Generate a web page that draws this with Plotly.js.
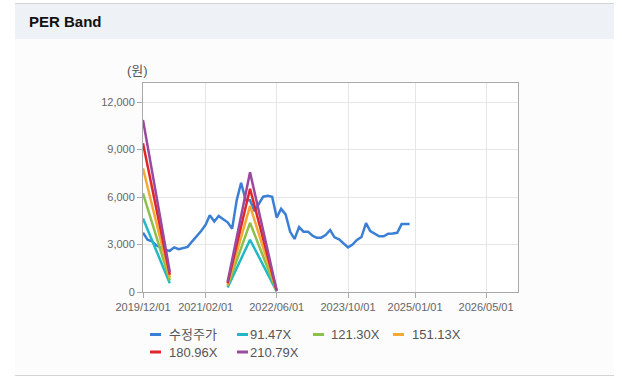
<!DOCTYPE html>
<html>
<head>
<meta charset="utf-8">
<script src="https://cdn.plot.ly/plotly-3.0.1.min.js"></script>
<style>
  html, body { margin:0; padding:0; background:#ffffff; width:622px; height:385px; overflow:hidden; }
  #panel { position:absolute; left:15px; top:3px; width:599px; height:371px; background:#fcfcfc;
           border-top:1px solid #d4d4d4; border-bottom:1px solid #d4d4d4; }
  #header { position:absolute; left:15px; top:4px; width:599px; height:35px; background:#eef2f7;
            font-family:"Liberation Sans", Arial, sans-serif; font-weight:bold; font-size:15px; color:#111;
            line-height:35px; box-sizing:border-box; padding-left:14px; }
  #chart { position:absolute; left:0; top:0; width:622px; height:385px; }
</style>
</head>
<body>
<div id="panel"></div>
<div id="header">PER Band</div>
<div id="chart"></div>
<script>
// ---- data ----
var priceDates = ['2019-12-01','2020-01-01','2020-02-01','2020-03-01','2020-04-01','2020-05-01','2020-06-01','2020-07-01','2020-08-01','2020-09-01','2020-10-01','2020-11-01','2020-12-01',
  '2021-01-01','2021-02-01','2021-03-01','2021-04-01','2021-05-01','2021-06-01','2021-07-01','2021-08-01','2021-09-01','2021-10-01','2021-11-01','2021-12-01',
  '2022-01-01','2022-02-01','2022-03-01','2022-04-01','2022-05-01','2022-06-01','2022-07-01','2022-08-01','2022-09-01','2022-10-01','2022-11-01','2022-12-01',
  '2023-01-01','2023-02-01','2023-03-01','2023-04-01','2023-05-01','2023-06-01','2023-07-01','2023-08-01','2023-09-01','2023-10-01','2023-11-01','2023-12-01',
  '2024-01-01','2024-02-01','2024-03-01','2024-04-01','2024-05-01','2024-06-01','2024-07-01','2024-08-01','2024-09-01','2024-10-01','2024-11-01','2024-11-25'];
var priceValues = [3750,3300,3200,2950,2800,2650,2600,2820,2700,2800,2850,3200,3500,
  3850,4250,4850,4450,4800,4600,4400,4000,5800,6900,5800,5800,
  5100,5600,6020,6080,6020,4700,5250,4900,3800,3350,4100,3810,
  3810,3550,3430,3430,3600,3915,3450,3330,3100,2820,3000,3285,
  3470,4350,3850,3700,3520,3520,3680,3700,3740,4290,4300,4300];

var bandDates = ['2019-12-01','2020-06-01',null,'2021-07-01','2021-12-01','2022-06-01'];
var band9147  = [4650, 550,null,280,3300,40];
var band12130 = [6230, 730,null,370,4370,55];
var band15113 = [7810, 910,null,460,5440,70];
var band18096 = [9390,1090,null,550,6520,85];
var band21079 = [10860,1270,null,640,7560,100];

var seriesNames = ['수정주가','91.47X','121.30X','151.13X','180.96X','210.79X'];
var seriesColors = ['#3a7fd5','#1fb8c4','#8dc04a','#f5a833','#e0262b','#9a4a9e'];

var xTickVals = ['2019-12-01','2021-02-01','2022-06-01','2023-10-01','2025-01-01','2026-05-01'];
var xTickText = ['2019/12/01','2021/02/01','2022/06/01','2023/10/01','2025/01/01','2026/05/01'];
var yTickVals = [0,3000,6000,9000,12000];

// ---- traces ----
var bands = [band9147, band12130, band15113, band18096, band21079];
var traces = [{
  x: priceDates, y: priceValues, type:'scatter', mode:'lines', name: seriesNames[0],
  line:{color:seriesColors[0], width:2.5}, showlegend:false, hoverinfo:'skip'
}];
bands.forEach(function(b,i){
  traces.push({
    x: bandDates.map(function(d){return d;}), y: b, type:'scatter', mode:'lines', name: seriesNames[i+1],
    line:{color:seriesColors[i+1], width:2.5}, connectgaps:false, showlegend:false, hoverinfo:'skip'
  });
});

// ---- custom legend (paper coordinates relative to the plot area) ----
var L = 143, R = 518, T = 83, B = 292;
function px(xp){ return (xp - L)/(R - L); }
function py(yp){ return (B - yp)/(B - T); }
var legendPos = [
  {lx:150, ly:334.5, tx:167},
  {lx:237, ly:334.5, tx:248},
  {lx:313, ly:334.5, tx:329},
  {lx:393, ly:334.5, tx:410},
  {lx:150, ly:352, tx:167},
  {lx:237, ly:352, tx:248}
];
var shapes = [], annotations = [];
legendPos.forEach(function(p,i){
  shapes.push({type:'line', xref:'paper', yref:'paper', x0:px(p.lx), x1:px(p.lx+11), y0:py(p.ly), y1:py(p.ly),
    line:{color:seriesColors[i], width:3}});
  annotations.push({xref:'paper', yref:'paper', x:px(p.tx), y:py(p.ly), xanchor:'left', yanchor:'middle',
    text: seriesNames[i], showarrow:false, font:{size:13, color:'#555', family:'"Liberation Sans", Arial, "Noto Sans CJK KR", sans-serif'}});
});
annotations.push({xref:'paper', yref:'paper', x:px(137), y:py(71), xanchor:'center', yanchor:'middle',
  text:'(원)', showarrow:false, font:{size:13, color:'#555', family:'"Liberation Sans", Arial, "Noto Sans CJK KR", sans-serif'}});

var layout = {
  width:622, height:385,
  margin:{l:L, r:622-R, t:T, b:385-B, pad:0},
  paper_bgcolor:'rgba(0,0,0,0)', plot_bgcolor:'#ffffff',
  showlegend:false,
  font:{family:'"Liberation Sans", Arial, sans-serif', size:11, color:'#666'},
  xaxis:{type:'date', range:['2019-12-01','2026-12-05'], tickvals:xTickVals, ticktext:xTickText,
    showgrid:true, gridcolor:'#e6e6e6', gridwidth:1, zeroline:false,
    showline:true, linecolor:'#aaaaaa', linewidth:1, mirror:true,
    ticks:'outside', ticklen:5, tickcolor:'#aaaaaa', tickfont:{size:11, color:'#666'}},
  yaxis:{range:[0,13200], tickvals:yTickVals, tickformat:',d',
    showgrid:true, gridcolor:'#e6e6e6', gridwidth:1, zeroline:false,
    showline:true, linecolor:'#aaaaaa', linewidth:1, mirror:true,
    ticks:'outside', ticklen:5, tickcolor:'#aaaaaa', tickfont:{size:11, color:'#666'}},
  shapes:shapes, annotations:annotations
};
Plotly.newPlot('chart', traces, layout, {staticPlot:true, displayModeBar:false});
</script>
</body>
</html>
